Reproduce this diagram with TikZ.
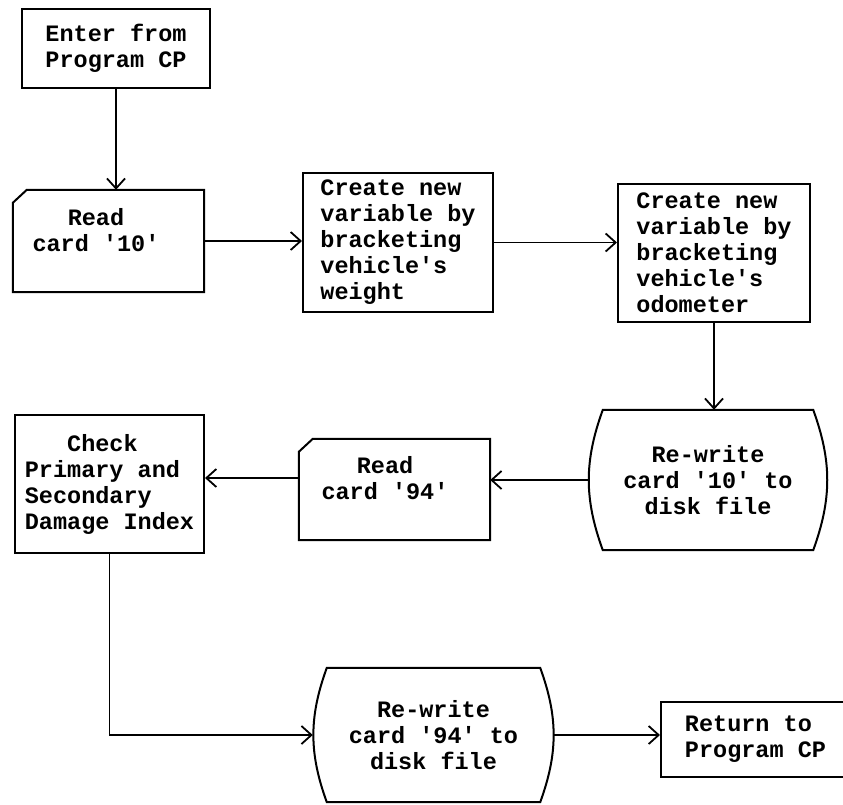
\documentclass[tikz,border=0pt]{standalone}
\usepackage{fontspec}
\setmonofont{Liberation Mono}
\usetikzlibrary{arrows.meta,positioning,calc}
\tikzset{
  txt/.style={font=\ttfamily\bfseries\fontsize{23.5}{26}\selectfont,inner sep=0pt},
  procbox/.style={txt,draw=black,line width=2pt,rectangle},
  cardbox/.style={rectangle,inner sep=0pt},
  diskbox/.style={txt,rectangle,align=center},
  edge/.style={line width=2pt,line join=miter},
  link/.style={line width=1.8pt},
  arrow/.style={link,-{Straight Barb[length=10pt,width=18pt]}}
}
% outlines for the card and disk symbols
\newcommand{\cardoutline}[1]{%
  \draw[edge] (#1.north east) -- ([xshift=14pt]#1.north west)
    -- ([yshift=-13pt]#1.north west) -- (#1.south west) -- (#1.south east) -- cycle;}
\newcommand{\diskoutline}[1]{%
  \draw[edge] ([xshift=14pt]#1.north west) -- ([xshift=-14pt]#1.north east)
    to[bend left=20] ([xshift=-14pt]#1.south east) -- ([xshift=14pt]#1.south west)
    to[bend left=20] cycle;}

\begin{document}
\begin{tikzpicture}[x=1pt,y=-1pt]
  \useasboundingbox (0,0) rectangle (843,804);

  \node[procbox,align=left,minimum width=188pt,minimum height=79pt] (enter) at (116,48.5)
    {Enter from\\Program CP};

  \node[cardbox,minimum width=191pt,minimum height=102pt] (rd10) at (108.5,241) {};
  \cardoutline{rd10}
  \node[txt,align=center] (rd10t) at (96,230) {Read\\card '10'};

  \node[procbox,align=left,minimum width=190pt,minimum height=139pt] (wgt) at (398,242.5)
    {Create new\\variable by\\bracketing\\vehicle's\\weight};
  \node[procbox,align=left,minimum width=192pt,minimum height=138pt] (odo) at (714,253)
    {Create new\\variable by\\bracketing\\vehicle's\\odometer};

  \node[diskbox,minimum width=238pt,minimum height=140pt] (dsk10) at (708,480)
    {Re-write\\card '10' to\\disk file};
  \diskoutline{dsk10}

  \node[cardbox,minimum width=191pt,minimum height=101pt] (rd94) at (394.5,489.5) {};
  \cardoutline{rd94}
  \node[txt,align=center] (rd94t) at (385,478) {Read\\card '94'};

  \node[procbox,align=left,minimum width=189pt,minimum height=138pt] (chk) at (109.5,484)
    {\phantom{Sec}Check\\Primary and\\Secondary\\Damage Index};

  \node[diskbox,minimum width=241pt,minimum height=134pt] (dsk94) at (433.5,735)
    {Re-write\\card '94' to\\disk file};
  \diskoutline{dsk94}

  \node[procbox,align=left,minimum width=189pt,minimum height=75pt] (ret) at (755.5,739.5)
    {Return to\\Program CP};

  % connectors
  \draw[arrow] (enter.south) -- (enter.south |- rd10.north);
  \draw[arrow] (rd10.east) -- (rd10.east -| wgt.west);
  \draw[arrow] (wgt.east) -- (wgt.east -| odo.west);
  \draw[arrow] (odo.south) -- (odo.south |- dsk10.north);
  \draw[arrow] (dsk10.west) -- (dsk10.west -| rd94.east);
  \draw[arrow] (rd94t -| rd94.west) -- (rd94t -| chk.east);
  \draw[arrow] (chk.south) |- (dsk94.west);
  \draw[arrow] (dsk94.east) -- (dsk94.east -| ret.west);
\end{tikzpicture}
\end{document}
